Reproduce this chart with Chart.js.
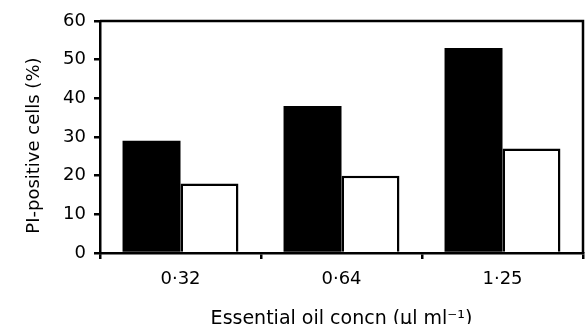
<!DOCTYPE html>
<html>
<head>
<meta charset="utf-8">
<script src="https://cdn.jsdelivr.net/npm/chart.js@4"></script>
<style>
  body { margin: 0; background: #fff; }
  #wrap { width: 586px; height: 324px; }
</style>
</head>
<body>
<div id="wrap"><canvas id="chart" width="586" height="324"></canvas></div>
<script>
// values (percent PI-positive cells)
const concentrations = ["0·32", "0·64", "1·25"];
const blackSeries = [29, 38, 53];
const whiteSeries = [18, 20, 27];
const yTicks = [0, 10, 20, 30, 40, 50, 60];

const family = "'DejaVu Sans', sans-serif";
const font = { family: family, size: 18 };

// box round the plot area (top and right edges)
const frame = {
    id: 'frame',
    afterDatasetsDraw(chart) {
        const { ctx, chartArea: a } = chart;
        ctx.save();
        ctx.strokeStyle = '#000';
        ctx.lineWidth = 2.5;
        ctx.beginPath();
        ctx.moveTo(a.left, a.top);
        ctx.lineTo(a.right, a.top);
        ctx.lineTo(a.right, a.bottom);
        ctx.stroke();
        ctx.restore();
    }
};

(() => {
    const ctx = document.getElementById('chart');
    new Chart(ctx, {
        type: 'bar',
        data: {
            labels: concentrations,
            datasets: [
                {
                    data: blackSeries,
                    backgroundColor: '#000',
                    borderColor: '#000',
                    borderWidth: 0
                },
                {
                    data: whiteSeries,
                    backgroundColor: '#fff',
                    borderColor: '#000',
                    borderWidth: 2.5
                }
            ]
        },
        options: {
            responsive: false,
            animation: false,
            events: [],
            layout: { padding: { top: 21, right: 3, left: 0, bottom: 0 } },
            datasets: { bar: { categoryPercentage: 0.72, barPercentage: 1 } },
            plugins: { legend: { display: false }, tooltip: { enabled: false } },
            scales: {
                x: {
                    offset: true,
                    grid: { offset: true, drawOnChartArea: false, drawTicks: true, tickLength: 6, color: '#000', lineWidth: 2.5 },
                    border: { color: '#000', width: 2.5 },
                    ticks: { color: '#000', font: font, padding: 10, maxRotation: 0 },
                    title: {
                        display: true,
                        text: 'Essential oil concn (μl ml⁻¹)',
                        color: '#000',
                        font: { family: family, size: 19 },
                        padding: { top: 0, bottom: -6 }
                    },
                    afterFit(scale) { scale.height = 71; }
                },
                y: {
                    min: 0,
                    max: 60,
                    afterBuildTicks(scale) { scale.ticks = yTicks.map(v => ({ value: v })); },
                    grid: { drawOnChartArea: false, drawTicks: true, tickLength: 6, color: '#000', lineWidth: 2.5 },
                    border: { color: '#000', width: 2.5 },
                    ticks: { color: '#000', font: font, padding: 8 },
                    title: {
                        display: true,
                        text: 'PI-positive cells (%)   ',
                        color: '#000',
                        font: font,
                        padding: { top: 24, bottom: 0 }
                    },
                    afterFit(scale) { scale.width = 100; }
                }
            }
        },
        plugins: [frame]
    });
})();
</script>
</body>
</html>
